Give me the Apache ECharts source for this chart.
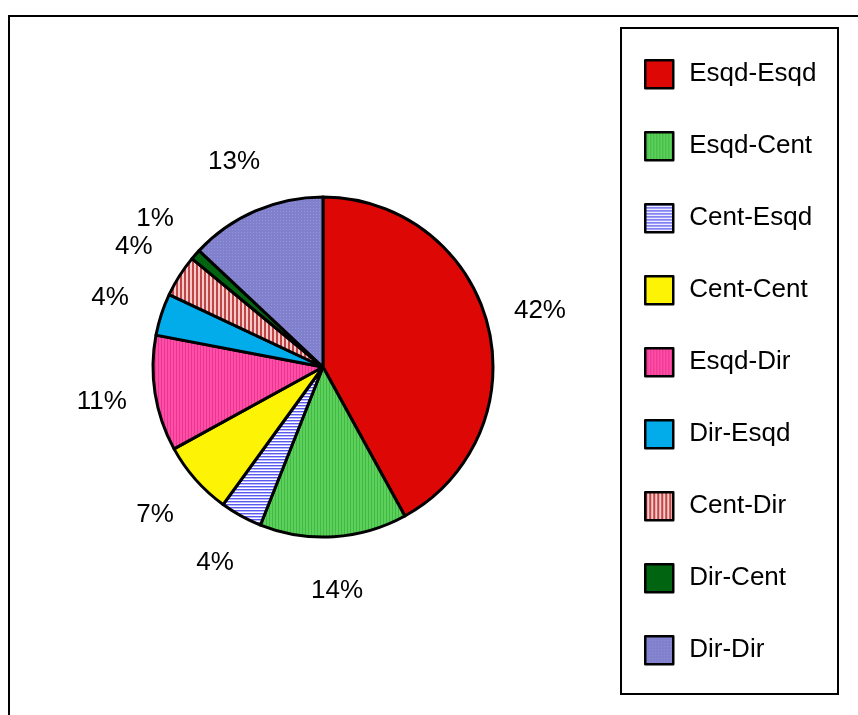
<!DOCTYPE html>
<html>
<head>
<meta charset="utf-8">
<script src="https://cdn.jsdelivr.net/npm/echarts@6/dist/echarts.min.js"></script>
<style>
  html, body { margin: 0; padding: 0; background: #fff; }
  #chart { width: 858px; height: 715px; }
</style>
</head>
<body>
<div id="chart"></div>
<script>
// Side-to-side pass combinations and their share of all passes (%)
const categories = ['Esqd-Esqd', 'Esqd-Cent', 'Cent-Esqd', 'Cent-Cent', 'Esqd-Dir', 'Dir-Esqd', 'Cent-Dir', 'Dir-Cent', 'Dir-Dir'];
const shares = [42, 14, 4, 7, 11, 4, 4, 1, 13];

// Small tiled canvases used as hatched fills
function tile(w, h, paint) {
  const c = document.createElement('canvas');
  c.width = w; c.height = h;
  paint(c.getContext('2d'));
  return c;
}
const vStripes = (a, b, wa, wb) => tile(wa + wb, 4, g => {
  g.fillStyle = a; g.fillRect(0, 0, wa, 4);
  g.fillStyle = b; g.fillRect(wa, 0, wb, 4);
});
const hStripes = (rows) => tile(4, rows.length, g => {
  rows.forEach((col, i) => { g.fillStyle = col; g.fillRect(0, i, 4, 1); });
});
const dots = (base, dot) => tile(3, 3, g => {
  g.fillStyle = base; g.fillRect(0, 0, 3, 3);
  g.fillStyle = dot; g.fillRect(1, 1, 1, 1);
});

const fills = [
  '#DD0806',
  { image: vStripes('#5BD05B', '#44B844', 2, 1), repeat: 'repeat' },
  { image: hStripes(['#5A5AEE', '#B8B8FF', '#FFFFFF']), repeat: 'repeat' },
  '#FCF305',
  { image: vStripes('#FF4DA8', '#E8378F', 2, 1), repeat: 'repeat' },
  '#02ABEA',
  { image: vStripes('#C04545', '#F6CACA', 2, 2), repeat: 'repeat' },
  '#006411',
  { image: dots('#8080CC', '#9494DC'), repeat: 'repeat' }
];

const CX = 323, CY = 367, R = 170, LABEL_R = 224;
const total = shares.reduce((s, v) => s + v, 0);
const midAngles = [];
shares.reduce((acc, v) => { midAngles.push((acc + v / 2) / total * Math.PI * 2); return acc + v; }, 0);

const chart = echarts.init(document.getElementById('chart'), null, { renderer: 'canvas' });
const font = "'Liberation Sans', Arial, sans-serif";

chart.setOption({
  animation: false,
  backgroundColor: '#fff',
  textStyle: { fontFamily: font },
  legend: {
    orient: 'vertical',
    left: 644,
    top: 59,
    padding: 0,
    itemWidth: 28,
    itemHeight: 28,
    itemGap: 41.5,
    icon: 'rect',
    selectedMode: false,
    itemStyle: { borderColor: '#000', borderWidth: 2.5 },
    textStyle: { fontFamily: font, fontSize: 26, color: '#000', padding: [0, 0, 0, 11] },
    data: categories
  },
  graphic: [
    { type: 'polyline', shape: { points: [[9, 715], [9, 16], [858, 16]] }, style: { stroke: '#000', lineWidth: 2, fill: null } },
    { type: 'rect', shape: { x: 621, y: 28, width: 217, height: 666 }, style: { stroke: '#000', lineWidth: 2, fill: null } }
  ],
  series: [{
    type: 'pie',
    center: [CX, CY],
    radius: R,
    startAngle: 90,
    clockwise: true,
    avoidLabelOverlap: false,
    itemStyle: { borderColor: '#000', borderWidth: 3 },
    label: {
      show: true,
      position: 'outside',
      formatter: p => p.value + '%',
      fontFamily: font,
      fontSize: 26,
      color: '#000'
    },
    labelLine: { show: false },
    labelLayout: p => {
      const a = midAngles[p.dataIndex];
      return {
        x: CX + LABEL_R * Math.sin(a),
        y: CY - LABEL_R * Math.cos(a),
        align: 'center',
        verticalAlign: 'middle'
      };
    },
    data: categories.map((name, i) => ({ name, value: shares[i], itemStyle: { color: fills[i] } }))
  }]
});
</script>
</body>
</html>
